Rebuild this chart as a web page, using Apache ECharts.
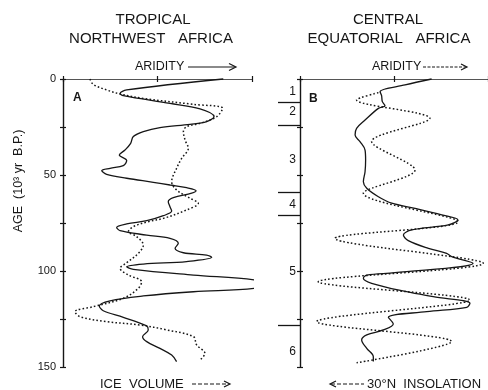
<!DOCTYPE html>
<html><head><meta charset="utf-8">
<script src="https://cdn.jsdelivr.net/npm/echarts@6/dist/echarts.min.js"></script>
<style>html,body{margin:0;padding:0;background:#fff}#c{width:488px;height:390px}</style>
</head><body><div id="c"></div>
<script>
// ---- axis / annotation data ----
const ageLabels = [0, 50, 100, 150];
const stageBounds = [12, 24, 59, 71, 128];
const stageLabelAges = [6.5, 17, 42, 65.5, 100.5, 142];
const stageNames = ['1', '2', '3', '4', '5', '6'];

// ---- Panel A: Tropical Northwest Africa ----
const nwAridAge = [0,5.7,7.5,8.7,12.7,15.6,19.6,22.2,23.6,25.3,27.4,30,33.5,37,39.6,42.5,45.1,46.5,47.7,49.7,51.7,53.8,55.2,56.6,58.2,59.5,61.8,63.9,66.5,68.8,71.2,73.8,75.5,77.3,79,81.3,83,85.6,88.2,90.5,91.7,92.9,95.1,96.4,97.8,99.1,102.1,104.7,106.8,109,110.8,113,115.5,118.2,120.7,124.1,128.6,130.7,134.2,136.8,140.3,143.8,147.2];
const nwAridVal = [84.8,33.7,30.2,31.9,56.6,72.5,79.9,76,67.2,51.3,42.5,37.2,35.8,32.8,29.8,33.7,31.9,24.9,20.5,23.1,33.7,47.8,56.6,65.4,70.4,68.1,58.4,55.7,56.6,57.5,53.1,44.3,33.7,28.4,30.2,44.3,56.6,61,59.3,63.7,76,78.7,65.4,42.5,33.7,37.2,69,101.6,103.5,101.6,69,42.5,24.9,19.2,21.3,31.9,44.3,45.1,42.1,44.3,51.3,57.5,60.1];
const iceAge = [0,2.8,5.7,7.8,10.1,13.2,15.3,19.6,23.1,24.8,27.4,31.8,36.1,41.3,46.5,53.5,57.8,62.1,64.7,68.2,72.6,74.3,76.9,79.5,82.1,86.5,90.8,95.7,98.6,102.1,105.6,109,114.2,118.6,121.2,123.8,126.4,128.1,130.7,134.2,138.5,142.9,146.4];
const iceVal = [14.3,16,23.1,30.2,42.5,68.8,84.5,81.3,72.5,65.4,63.7,64.6,66.3,62.8,60.1,57.5,60.1,67.2,71.6,65.4,53.1,45.1,37.2,34.6,39,42.5,39.9,33.7,30.2,34.6,41.6,39.9,31.9,16,6.3,9,23.1,40.7,54.9,69,70.7,75.1,72.5];

// ---- Panel B: Central Equatorial Africa ----
const ceAridAge = [0,3.1,6.6,8.7,11.8,13.9,15.3,21.4,25.7,29.2,32.6,37,42.2,48.3,53.5,56.9,61.3,64.7,67.4,70.8,73.4,76,78.6,81.3,84.2,88.2,90.8,92.5,96,100.9,102.1,103.8,106.4,110.8,113.4,116.8,118.9,121.2,124.1,127.6,130.7,133.3,135.9,140.3,144.6,147.2];
const ceAridVal = [70,55.9,42.6,43.4,43.8,45.2,41.7,34.6,30.1,29.3,31.9,34.6,34.9,34.6,33.7,35.5,41.7,48.8,61.2,75.4,84,78.9,59.4,55,57.6,68.3,78,80.7,92,50.5,35.5,33.7,38.1,56.7,70.9,90.4,88.7,67.4,47,49.6,44.3,35.5,32.8,35.5,39,39];
const insolAge = [7.1,10.9,20.5,32.6,47.4,59.5,74.3,83,96,105.6,115.1,126.4,136.8,147.8];
const insolVal = [41.7,30.1,69.1,38.1,61.2,33.7,84.2,18.6,97.5,9.7,90.4,8.9,80.7,30.1];

const pairs = (v, a) => v.map((x, i) => [x, a[i]]);
const INK = '#161616';
const FONT = '"Liberation Sans", Arial, sans-serif';

function xAxes(g) {
  const base = {gridIndex: g, type: 'value', min: 0, max: 100, interval: 50, position: 'top',
    axisLabel: {show: false}, splitLine: {show: false}};
  return [
    Object.assign({}, base, {axisLine: {show: true, lineStyle: {color: '#555', width: 1}},
      axisTick: {show: true, inside: false, length: 3, lineStyle: {color: INK, width: 1.2}}}),
    Object.assign({}, base, {axisLine: {show: false},
      axisTick: {show: true, inside: true, length: 3, lineStyle: {color: INK, width: 1.2}}})
  ];
}
function yAxes(g, labels) {
  const base = {gridIndex: g, type: 'value', inverse: true, min: 0, max: 150, interval: 25,
    position: 'left', offset: 0, splitLine: {show: false}};
  return [
    Object.assign({}, base, {axisLine: {show: true, lineStyle: {color: INK, width: 1.4}},
      axisTick: {show: true, inside: false, length: 3, lineStyle: {color: INK, width: 1.2}},
      axisLabel: {show: labels, margin: 7, fontFamily: FONT, fontSize: 11, color: INK,
        formatter: v => ageLabels.includes(v) ? String(v) : ''}}),
    Object.assign({}, base, {axisLine: {show: false}, axisLabel: {show: false},
      axisTick: {show: true, inside: true, length: 3, lineStyle: {color: INK, width: 1.2}}})
  ];
}

const xAxis = xAxes(0).concat(xAxes(1));
const yAxis = yAxes(0, true).concat(yAxes(1, false));
yAxis.push({gridIndex: 1, type: 'value', inverse: true, min: 0, max: 150, position: 'left', offset: 0,
  axisLine: {show: false}, splitLine: {show: false},
  axisTick: {show: true, inside: false, length: 22, customValues: stageBounds, lineStyle: {color: INK, width: 1.3}},
  axisLabel: {show: true, margin: 4, customValues: stageLabelAges, fontFamily: FONT, fontSize: 12, color: INK,
    formatter: v => { const i = stageLabelAges.indexOf(v); return i >= 0 ? stageNames[i] : ''; }}});

const solid = {type: 'solid', color: INK, width: 1.3};
const dotted = {type: [1.6, 2.2], color: INK, width: 1.5};
function line(name, xi, yi, data, ls, sm) {
  return {name, type: 'line', xAxisIndex: xi, yAxisIndex: yi, data, showSymbol: false, symbol: 'none',
    smooth: sm, clip: false, lineStyle: ls, silent: true};
}

const txt = (x, y, text, size, align, extra) => Object.assign({type: 'text', x, y,
  style: {text, font: size + 'px ' + FONT, fill: INK, textAlign: align, textVerticalAlign: 'middle'}}, extra || {});
const seg = (x1, y1, x2, y2, dash) => ({type: 'line', shape: {x1, y1, x2, y2},
  style: {stroke: INK, lineWidth: 1.2, lineDash: dash || null}});
const head = (pts) => ({type: 'polyline', shape: {points: pts}, style: {stroke: INK, fill: null, lineWidth: 1.2}});

const option = {
  animation: false,
  backgroundColor: '#fff',
  grid: [
    {left: 63, top: 79, width: 189, height: 288, outerBoundsMode: 'none'},
    {left: 300, top: 79, width: 188, height: 288, outerBoundsMode: 'none'}
  ],
  xAxis, yAxis,
  series: [
    line('NW aridity', 0, 0, pairs(nwAridVal, nwAridAge), solid, 0.35),
    line('Ice volume', 0, 0, pairs(iceVal, iceAge), dotted, 0.35),
    line('CE aridity', 2, 2, pairs(ceAridVal, ceAridAge), solid, 0.35),
    line('30N insolation', 2, 2, pairs(insolVal, insolAge), dotted, 0.3)
  ],
  graphic: [
    txt(153, 20, 'TROPICAL', 15, 'center'),
    txt(151, 39, 'NORTHWEST   AFRICA', 15, 'center'),
    txt(388, 20, 'CENTRAL', 15, 'center'),
    txt(389, 39, 'EQUATORIAL   AFRICA', 15, 'center'),
    txt(135, 67, 'ARIDITY', 12.5, 'left'),
    seg(188, 67, 235, 67), head([[229, 63.5], [236, 67], [229, 70.5]]),
    txt(372, 67, 'ARIDITY', 12.5, 'left'),
    seg(423, 67, 466, 67, [3, 1.5]), head([[461, 64], [467, 67], [461, 70]]),
    txt(73, 98, 'A', 12, 'left', {style: {text: 'A', font: 'bold 12px ' + FONT, fill: INK, textAlign: 'left', textVerticalAlign: 'middle'}}),
    txt(309, 99, 'B', 12, 'left', {style: {text: 'B', font: 'bold 12px ' + FONT, fill: INK, textAlign: 'left', textVerticalAlign: 'middle'}}),
    txt(19, 181, 'AGE  (10³ yr  B.P.)', 12.5, 'center', {rotation: Math.PI / 2}),
    txt(100, 384, 'ICE  VOLUME', 13, 'left'),
    seg(192, 384, 229, 384, [4, 2]), head([[224, 381], [230, 384], [224, 387]]),
    head([[336, 381], [330, 384], [336, 387]]), seg(331, 384, 364, 384, [4, 2]),
    txt(367, 384, '30°N  INSOLATION', 13, 'left')
  ]
};
const chart = echarts.init(document.getElementById('c'), null, {renderer: 'canvas'});
chart.setOption(option);
</script>
</body></html>
